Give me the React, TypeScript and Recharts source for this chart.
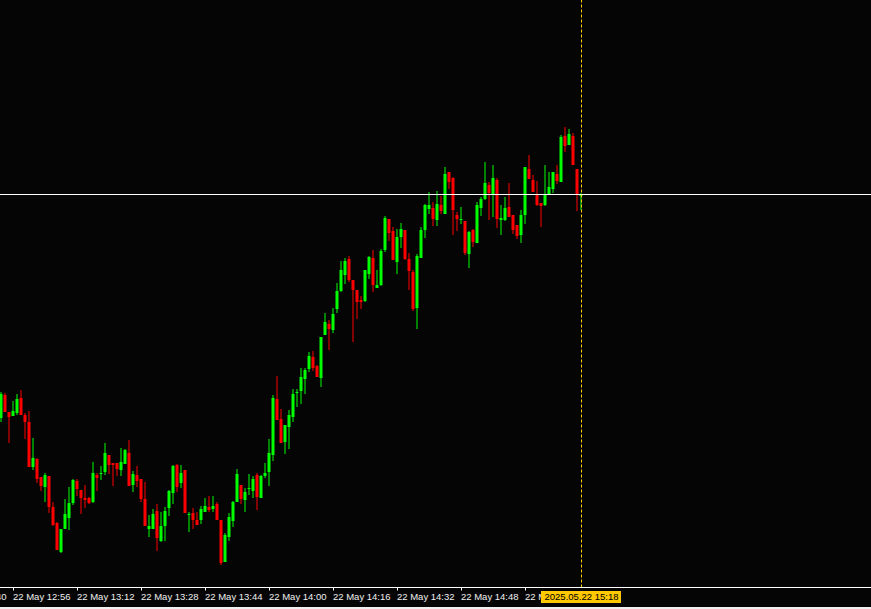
import React from 'react';
import { ComposedChart, Bar, XAxis, YAxis, ReferenceLine } from 'recharts';

// one candle per minute, 22 May from 12:53 to 15:18
const OPEN = [
  182, 205, 188, 184, 187, 202, 185, 178, 133, 141,
  123, 113, 124, 93, 77, 48, 71, 82, 97, 119,
  110, 102, 102, 98, 125, 127, 128, 145, 137, 137,
  130, 136, 147, 115, 125, 121, 101, 71, 71, 89,
  59, 74, 92, 107, 135, 117, 130, 86, 87, 80,
  80, 88, 93, 91, 96, 80, 38, 63, 79, 98,
  115, 100, 112, 109, 125, 102, 124, 128, 145, 201,
  181, 158, 173, 183, 208, 209, 221, 231, 243, 234,
  222, 265, 276, 270, 291, 309, 325, 341, 320, 310,
  300, 299, 326, 342, 312, 315, 350, 381, 369, 338,
  363, 370, 341, 328, 292, 342, 370, 391, 392, 380,
  395, 386, 428, 422, 385, 381, 379, 346, 370, 357,
  392, 401, 415, 405, 420, 380, 380, 393, 385, 375,
  365, 385, 431, 420, 406, 397, 395, 406, 411, 426,
  418, 464, 455, 464, 431, 404,
];
const HIGH = [
  208, 207, 188, 199, 206, 210, 187, 189, 162, 142,
  123, 127, 124, 98, 78, 71, 101, 113, 121, 121,
  110, 115, 103, 138, 127, 134, 157, 145, 137, 137,
  152, 151, 160, 129, 134, 121, 118, 85, 91, 96,
  88, 93, 110, 135, 136, 135, 130, 88, 92, 88,
  94, 102, 104, 104, 98, 80, 67, 87, 99, 131,
  115, 112, 126, 124, 127, 125, 137, 161, 205, 224,
  191, 175, 190, 211, 211, 232, 232, 248, 249, 235,
  263, 287, 280, 292, 317, 339, 342, 344, 320, 310,
  304, 330, 344, 350, 330, 351, 384, 381, 373, 371,
  377, 370, 347, 330, 346, 373, 396, 408, 398, 409,
  404, 433, 428, 423, 388, 393, 379, 369, 371, 398,
  403, 438, 418, 435, 422, 395, 403, 417, 385, 375,
  390, 433, 445, 425, 419, 397, 435, 428, 428, 435,
  465, 473, 471, 467, 431, 407,
];
const LOW = [
  178, 188, 157, 184, 185, 185, 161, 133, 130, 117,
  109, 98, 87, 74, 50, 47, 71, 70, 95, 104,
  86, 92, 96, 97, 109, 120, 125, 126, 114, 124,
  124, 136, 114, 108, 113, 98, 74, 63, 71, 49,
  58, 59, 84, 96, 108, 112, 87, 68, 71, 75,
  76, 88, 88, 88, 80, 35, 38, 59, 73, 98,
  96, 88, 105, 102, 90, 102, 122, 114, 139, 180,
  157, 146, 151, 178, 193, 196, 206, 228, 229, 223,
  213, 265, 250, 267, 287, 308, 316, 318, 258, 281,
  291, 298, 321, 308, 312, 314, 348, 359, 340, 326,
  352, 340, 310, 289, 271, 342, 362, 386, 374, 374,
  386, 386, 411, 365, 369, 376, 345, 332, 353, 357,
  384, 400, 380, 383, 372, 365, 379, 383, 366, 361,
  357, 376, 421, 408, 394, 373, 394, 406, 407, 416,
  418, 448, 455, 435, 389, 390,
];
const CLOSE = [
  206, 188, 183, 189, 201, 185, 178, 133, 142, 121,
  114, 125, 93, 75, 50, 71, 86, 97, 120, 111,
  102, 100, 97, 127, 122, 127, 147, 135, 135, 131,
  138, 150, 114, 126, 119, 101, 74, 74, 86, 62,
  74, 89, 109, 134, 113, 127, 87, 86, 80, 75,
  91, 94, 90, 94, 80, 37, 65, 83, 98, 126,
  101, 108, 112, 121, 103, 124, 127, 147, 202, 180,
  157, 175, 185, 206, 208, 223, 230, 244, 232, 223,
  263, 278, 271, 286, 309, 330, 339, 320, 310, 298,
  298, 330, 343, 315, 315, 349, 382, 367, 340, 363,
  371, 341, 329, 291, 344, 370, 395, 395, 381, 396,
  389, 426, 418, 390, 381, 381, 347, 368, 358, 395,
  401, 417, 407, 422, 381, 382, 392, 383, 370, 364,
  385, 433, 421, 408, 395, 394, 406, 413, 428, 419,
  463, 454, 466, 435, 406, 406,
];

// time axis: minute index from 12:53
const TICK_T = [-13, 3, 19, 35, 51, 67, 83, 99, 115, 131];
const TICK_LABELS = [
  '22 May 12:40', '22 May 12:56', '22 May 13:12', '22 May 13:28', '22 May 13:44',
  '22 May 14:00', '22 May 14:16', '22 May 14:32', '22 May 14:48', '22 May 15:04',
];

// crosshair
const CROSS_T = 145;
const CROSS_LABEL = '2025.05.22 15:18';
const CROSS_PRICE = 405.5;

const data = OPEN.map((open, i) => ({
  t: i,
  open,
  high: HIGH[i],
  low: LOW[i],
  close: CLOSE[i],
}));

const UP = '#00ff00';
const DOWN = '#ff0000';
const FONT = '"Liberation Sans", Arial, sans-serif';

const Candle = (props: any) => {
  const { x, y, width, height, payload } = props;
  const { open, close, high, low } = payload;
  const color = close >= open ? UP : DOWN;
  const k = high > low ? height / (high - low) : 0;
  const yOf = (v: number) => y + (high - v) * k;
  const cx = x + width / 2;
  const top = yOf(Math.max(open, close));
  const bot = yOf(Math.min(open, close));
  return (
    <g>
      <rect x={cx - 0.5} y={y} width={1} height={Math.max(1, height)} fill={color} />
      <rect x={cx - 1.5} y={top} width={3} height={Math.max(1, bot - top)} fill={color} />
    </g>
  );
};

const TimeTick = (props: any) => {
  const { x, y, payload } = props;
  if (payload.value === CROSS_T) {
    return (
      <g>
        <rect x={x - 40.5} y={y + 3.5} width={80} height={12} fill="#ffc800" />
        <text x={x} y={y + 12.5} textAnchor="middle" fontSize={9.5} fontFamily={FONT} fill="#000000">
          {CROSS_LABEL}
        </text>
      </g>
    );
  }
  const label = TICK_LABELS[TICK_T.indexOf(payload.value)];
  return (
    <g>
      <line x1={x} x2={x} y1={y} y2={y + 3} stroke="#ffffff" />
      <text x={x - 0.5} y={y + 12.5} fontSize={9.5} fontFamily={FONT} fill="#f0f0f0">
        {label}
      </text>
    </g>
  );
};

export default function App() {
  return (
    <div style={{ position: 'absolute', left: 0, top: 0, width: 871, height: 609, background: '#f0f0f0' }}>
      <div style={{ width: 871, height: 607, background: '#050505' }}>
        <ComposedChart width={871} height={607} data={data} margin={{ top: 0, right: 0, bottom: 0, left: 0 }}>
          <XAxis
            dataKey="t"
            type="number"
            domain={[-0.375, 217.375]}
            allowDataOverflow
            ticks={[...TICK_T, CROSS_T]}
            interval={0}
            height={19.5}
            tickSize={0}
            tickMargin={0}
            tickLine={false}
            axisLine={{ stroke: '#ffffff' }}
            tick={<TimeTick />}
          />
          <YAxis type="number" domain={[12.5, 600]} hide allowDataOverflow />
          <Bar
            dataKey={(d: any) => [d.low, d.high]}
            barSize={3}
            shape={<Candle />}
            isAnimationActive={false}
          />
          <ReferenceLine y={CROSS_PRICE} stroke="#ffffff" strokeWidth={1} />
          <ReferenceLine x={CROSS_T} stroke="#ffd200" strokeDasharray="3 2" strokeWidth={1} />
        </ComposedChart>
      </div>
    </div>
  );
}
